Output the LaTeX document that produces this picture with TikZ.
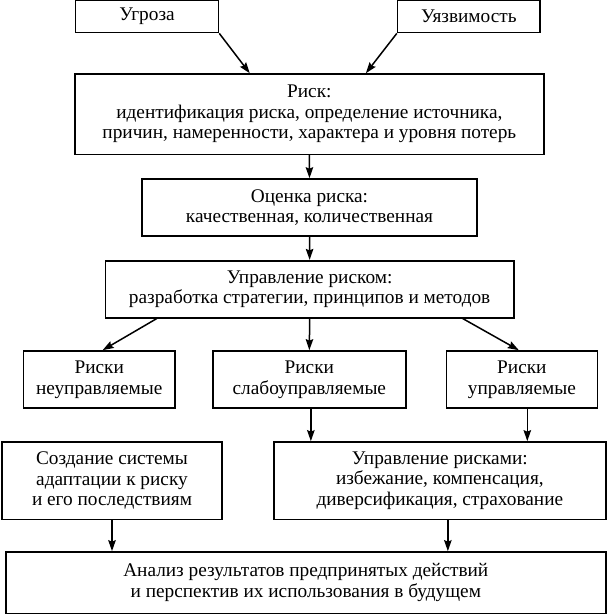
\documentclass[tikz,border=0pt]{standalone}
\usepackage{fontspec}
\setmainfont{Liberation Serif}
\usetikzlibrary{arrows.meta,calc}
\begin{document}
\begin{tikzpicture}[x=1pt,y=-1pt,
  box/.style={draw,line width=1.6pt,rectangle,align=center,inner sep=0pt,
    font=\fontsize{19.3}{20.5}\selectfont},
  arr/.style={line width=1.5pt,-{Stealth[length=11pt,width=7.5pt,inset=1.5pt]}}]
\useasboundingbox (0,0) rectangle (607,615);
\node[box,minimum width=143pt,minimum height=32pt] (ug) at (147,16.6) {Угроза};
\node[box,minimum width=142.4pt,minimum height=32pt] (uz) at (468.8,16.6) {Уязвимость};
\node[box,minimum width=469.3pt,minimum height=80.3pt] (risk) at (309.35,114.2)
  {Риск:\\идентификация риска, определение источника,\\причин, намеренности, характера и уровня потерь};
\node[box,minimum width=335pt,minimum height=57pt] (ocen) at (309.5,207.5)
  {Оценка риска:\\качественная, количественная};
\node[box,minimum width=408.7pt,minimum height=57pt] (upr) at (309.65,289.2)
  {Управление риском:\\разработка стратегии, принципов и методов};
\node[box,minimum width=151.5pt,minimum height=57.3pt] (r1) at (99.25,379.6)
  {Риски\\неуправляемые};
\node[box,minimum width=192.7pt,minimum height=57.3pt] (r2) at (309.35,379.6)
  {Риски\\слабоуправляемые};
\node[box,minimum width=151pt,minimum height=57.3pt] (r3) at (521.9,379.6)
  {Риски\\управляемые};
\node[box,minimum width=220pt,minimum height=77.5pt] (cr) at (112,480.7)
  {Создание системы\\адаптации к риску\\и его последствиям};
\node[box,minimum width=332.3pt,minimum height=77.5pt] (ur) at (439.85,480.7)
  {Управление рисками:\\избежание, компенсация,\\диверсификация, страхование};
\node[box,minimum width=600pt,minimum height=61.5pt] (an) at (305.8,582.7)
  {Анализ результатов предпринятых действий\\и перспектив их использования в будущем};
\draw[arr] (ug.south east) -- ([xshift=-59.6pt]risk.north);
\draw[arr] (uz.south west) -- ([xshift=56.5pt]risk.north);
\draw[arr] (risk.south) -- (ocen.north);
\draw[arr] (ocen.south) -- (upr.north);
\draw[arr] ([xshift=-152.8pt]upr.south) -- ([xshift=3.4pt]r1.north);
\draw[arr] (upr.south) -- (r2.north);
\draw[arr] ([xshift=153pt]upr.south) -- ([xshift=-3.1pt]r3.north);
\draw[arr] ([xshift=1.5pt]r2.south) -- ([xshift=1.5pt]r2.south |- ur.north);
\draw[arr] ([xshift=5.4pt]r3.south) -- ([xshift=5.4pt]r3.south |- ur.north);
\draw[arr] (cr.south) -- (cr.south |- an.north);
\draw[arr] ([xshift=8pt]ur.south) -- ([xshift=8pt]ur.south |- an.north);
\end{tikzpicture}
\end{document}
